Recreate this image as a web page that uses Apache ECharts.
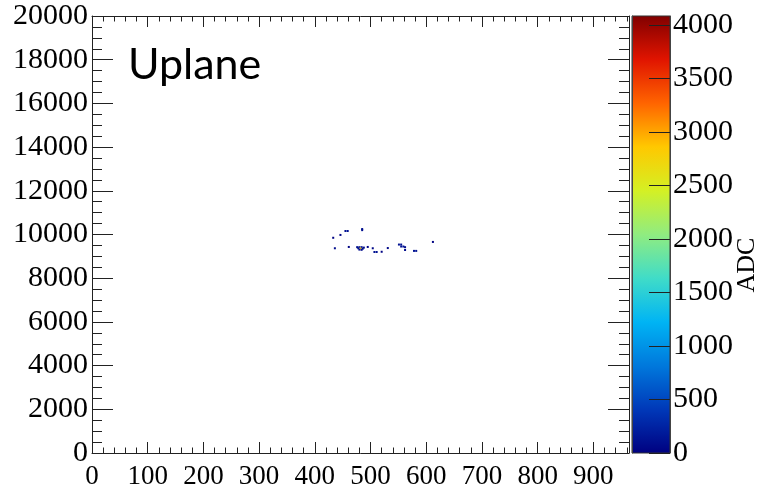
<!DOCTYPE html>
<html>
<head>
<meta charset="utf-8">
<script src="https://cdn.jsdelivr.net/npm/echarts@6/dist/echarts.min.js"></script>
<style>html,body{margin:0;padding:0;background:#fff}#c{width:758px;height:490px}</style>
</head>
<body>
<div id="c"></div>
<script>
// Hit bins: wire (x), time tick (y), ADC
const binX   = [455, 459, 485, 485, 433, 446, 436, 461, 476, 480, 484, 488, 478, 482, 486, 480, 484, 495, 504, 507, 511, 520, 531, 551, 555, 555, 559, 562, 562, 578, 582, 612];
const binY   = [10160,10160,10250,10200,9850,9980,9370,9430,9420,9420,9420,9400,9370,9360,9350,9310,9300,9430,9370,9200,9200,9210,9380,9540,9540,9450,9450,9420,9290,9250,9250,9660];
const binADC = [120, 130, 110, 110, 30, 40, 90, 30, 110, 140, 110, 90, 130, 2800, 130, 90, 90, 30, 60, 130, 130, 30, 60, 130, 130, 130, 130, 90, 90, 130, 130, 25];

const xTicks = [0,100,200,300,400,500,600,700,800,900];
const yTicks = [0,2000,4000,6000,8000,10000,12000,14000,16000,18000,20000];
const zTicks = [0,500,1000,1500,2000,2500,3000,3500,4000];
const X_MAX = 964, Y_MAX = 20000, Z_MAX = 4085;
const BIN_W = 3.6, BIN_H = 92;

const palette = ['#000080','#0038b8','#0078dc','#00b4f4','#40dcc8','#90ec80','#d4f024','#ffc800','#ff6400','#e01400','#800000'];

const points = binX.map((x,i)=>[x, binY[i], binADC[i]]);
const serif = 'Liberation Serif';
const axisCol = '#222';

const chart = echarts.init(document.getElementById('c'), null, {renderer:'canvas'});
const commonX = {
  type:'value', min:0, max:X_MAX, interval:100, gridIndex:0,
  axisLine:{show:true, onZero:false, lineStyle:{color:axisCol, width:1}},
  axisTick:{show:true, inside:true, length:11, lineStyle:{color:axisCol}},
  minorTick:{show:true, splitNumber:5, length:5.5, lineStyle:{color:axisCol}},
  splitLine:{show:false}
};
const commonY = {
  type:'value', min:0, max:Y_MAX, interval:2000, gridIndex:0,
  axisLine:{show:true, onZero:false, lineStyle:{color:axisCol, width:1}},
  axisTick:{show:true, inside:true, length:21, lineStyle:{color:axisCol}},
  minorTick:{show:true, splitNumber:4, length:10, lineStyle:{color:axisCol}},
  splitLine:{show:false}
};
const option = {
  backgroundColor:'#fff',
  animation:false,
  grid:[
    {left:92, top:16, width:537, height:437, show:false},
    {left:632, top:16, width:38, height:437, show:false}
  ],
  xAxis:[
    Object.assign({}, commonX, {position:'bottom',
      axisLabel:{show:true, margin:10, fontFamily:serif, fontSize:27, color:'#000',
        showMaxLabel:false, formatter:v=> xTicks.includes(v) ? String(v) : ''}}),
    Object.assign({}, commonX, {position:'top', axisLabel:{show:false}}),
    {type:'value', gridIndex:1, min:0, max:1, show:false}
  ],
  yAxis:[
    Object.assign({}, commonY, {position:'left',
      axisLabel:{show:true, margin:4, fontFamily:serif, fontSize:30, color:'#000',
        formatter:v=> yTicks.includes(v) ? String(v) : ''}}),
    Object.assign({}, commonY, {position:'right', axisLabel:{show:false}}),
    {type:'value', gridIndex:1, position:'right', min:0, max:Z_MAX, interval:500, z:10,
      axisLine:{show:true, onZero:false, lineStyle:{color:'#444'}},
      axisTick:{show:true, inside:true, length:21, lineStyle:{color:'#222'}},
      splitLine:{show:false},
      axisLabel:{show:true, margin:3, fontFamily:serif, fontSize:30, color:'#000', showMaxLabel:false,
        formatter:v=> zTicks.includes(v) ? String(v) : ''}},
    {type:'value', gridIndex:1, position:'left', min:0, max:Z_MAX, z:10,
      axisLine:{show:true, onZero:false, lineStyle:{color:'#444'}}, axisTick:{show:false}, axisLabel:{show:false}, splitLine:{show:false}}
  ],
  visualMap:{show:false, type:'continuous', min:0, max:Z_MAX, dimension:2, seriesIndex:0, inRange:{color:palette}},
  series:[
    {type:'custom', xAxisIndex:0, yAxisIndex:0, data:points, encode:{x:0,y:1},
      renderItem:(params, api)=>{
        const c = api.coord([api.value(0), api.value(1)]);
        const s = api.size([BIN_W, BIN_H]);
        return {type:'rect', shape:{x:c[0]-s[0]/2, y:c[1]-s[1]/2, width:s[0], height:s[1]},
          style:{fill: api.visual('color')}};
      }},
    {type:'custom', xAxisIndex:2, yAxisIndex:2, data:[[0, Z_MAX]], silent:true,
      renderItem:(params, api)=>{
        const p0 = api.coord([0, 0]);
        const p1 = api.coord([1, Z_MAX]);
        const stops = palette.map((c,i)=>({offset:i/(palette.length-1), color:c}));
        return {type:'rect', shape:{x:p0[0], y:p1[1], width:p1[0]-p0[0], height:p0[1]-p1[1]},
          style:{fill:{type:'linear', x:0, y:1, x2:0, y2:0, colorStops:stops}, stroke:'#333', lineWidth:1}};
      }}
  ],
  graphic:[
    {type:'text', x:128, y:65, style:{text:'Uplane', font:'43px Lato', fill:'#000', verticalAlign:'middle', align:'left'}},
    {type:'text', x:747, y:265, rotation:Math.PI/2,
      style:{text:'ADC', font:'26px "Liberation Serif"', fill:'#000', align:'center', verticalAlign:'middle'}}
  ]
};
chart.setOption(option);
</script>
</body>
</html>
